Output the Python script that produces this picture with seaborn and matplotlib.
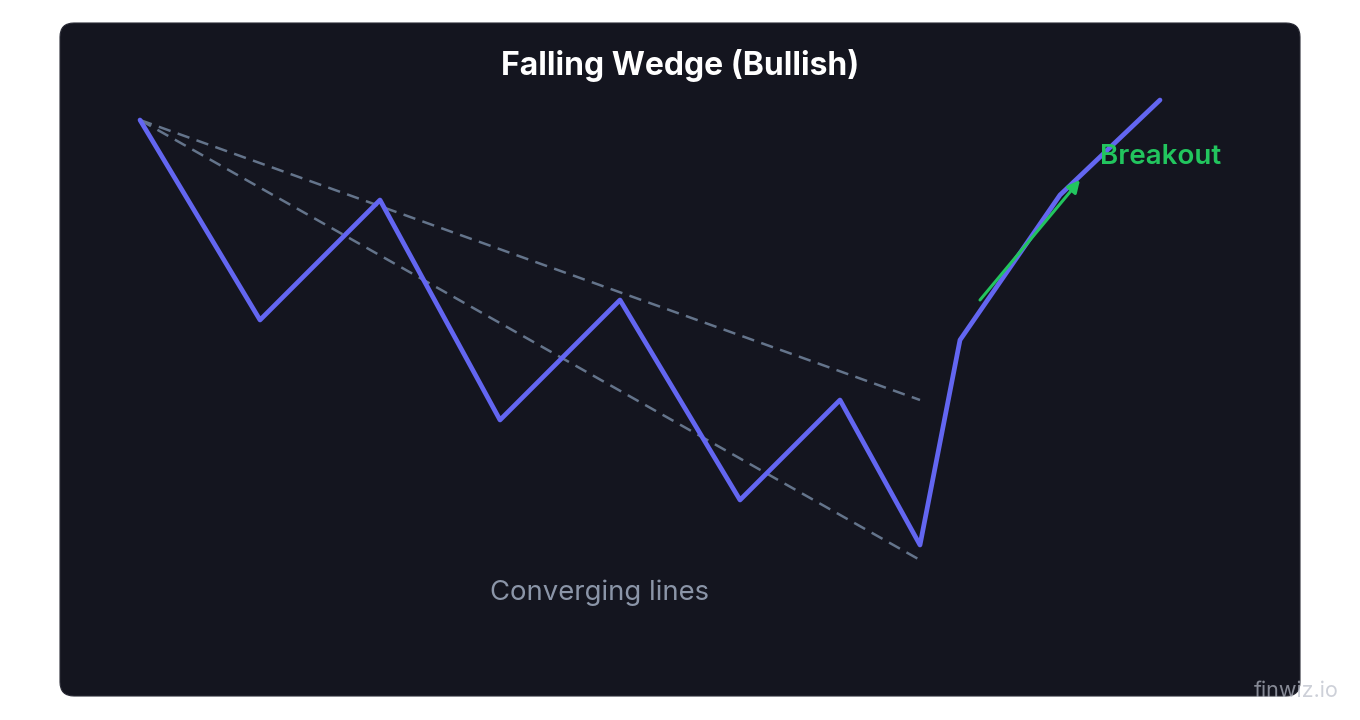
import pandas as pd
import seaborn as sns
import matplotlib.pyplot as plt
from matplotlib.patches import FancyBboxPatch

# price path (x position, y position as drawn; y grows downward)
path_x = [140, 260, 380, 500, 620, 740, 840, 920, 960, 1060, 1160]
path_y = [120, 320, 200, 420, 300, 500, 400, 545, 340, 195, 100]

# wedge trendlines
upper_x = [140, 920]
upper_y = [120, 400]
lower_x = [140, 920]
lower_y = [120, 560]

# breakout arrow
arrow_start = (980, 300)
arrow_end = (1080, 180)

title = "Falling Wedge (Bullish)"
breakout_label = "Breakout"
converging_label = "Converging lines"
watermark = "finwiz.io"

sns.set_theme(style="white")
plt.rcParams["font.family"] = ["Inter", "DejaVu Sans"]

fig = plt.figure(figsize=(13.6, 7.2), dpi=100)
ax = fig.add_axes([0, 0, 1, 1])

panel = FancyBboxPatch((60, 23), 1240, 673, boxstyle="round,pad=0,rounding_size=14",
                       facecolor="#14151f", edgecolor="#2a2b36", linewidth=0.8, zorder=0)
ax.add_patch(panel)

df = pd.DataFrame({"x": path_x, "y": path_y})
up = pd.DataFrame({"x": upper_x, "y": upper_y})
lo = pd.DataFrame({"x": lower_x, "y": lower_y})

sns.lineplot(data=up, x="x", y="y", ax=ax, color="#64748b", linewidth=1.8, zorder=2)
ax.lines[-1].set_dashes([5, 3])
sns.lineplot(data=lo, x="x", y="y", ax=ax, color="#64748b", linewidth=1.8, zorder=2)
ax.lines[-1].set_dashes([5, 3])
sns.lineplot(data=df, x="x", y="y", ax=ax, sort=False, color="#6366f1",
             linewidth=3.4, zorder=3)
ax.set_xlim(0, 1360)
ax.set_ylim(720, 0)
ax.axis("off")

ax.annotate("", xy=arrow_end, xytext=arrow_start,
            arrowprops=dict(arrowstyle="-|>,head_length=0.6,head_width=0.3",
                            color="#22c55e", lw=2.2, shrinkA=0, shrinkB=0), zorder=4)

ax.text(680, 66, title, color="white", fontsize=23, fontweight="bold",
        ha="center", va="center", zorder=5)
ax.text(1100, 157, breakout_label, color="#22c55e", fontsize=20, fontweight="semibold",
        ha="left", va="center", zorder=5)
ax.text(600, 593, converging_label, color="#8b95a8", fontsize=19.8,
        ha="center", va="center", zorder=5)
ax.text(1296, 691, watermark, color="#b8bcc8", alpha=0.7, fontsize=15.5,
        ha="center", va="center", zorder=6)

fig.savefig("out.png", dpi=100, facecolor="white")
